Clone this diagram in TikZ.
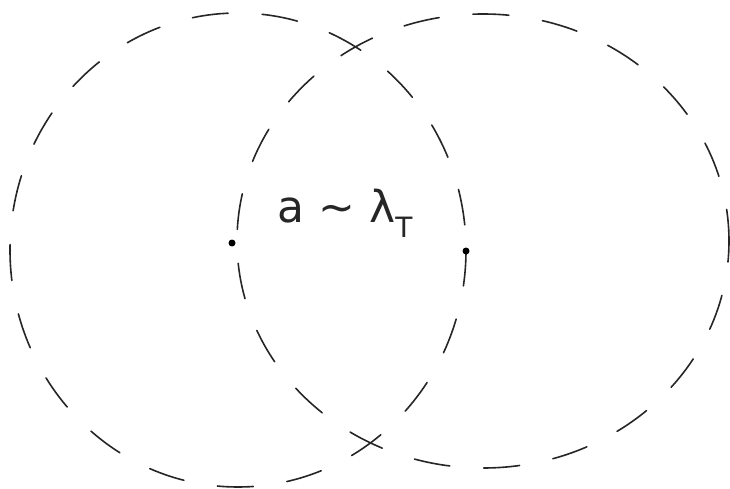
\documentclass[tikz,border=0pt]{standalone}
\usepackage{fontspec}
\setmainfont{DejaVu Sans}
\begin{document}
\begin{tikzpicture}[x=1pt,y=-1pt,
  sketch/.style={draw=black!85,line width=1.6pt,line cap=round,dash pattern=on 36pt off 34pt},
  dotmark/.style={circle,fill=black,inner sep=0pt,minimum size=7pt}]
\useasboundingbox (0,0) rectangle (730,489);
\draw[sketch] (238,250) ellipse [x radius=228, y radius=237];
\draw[sketch,dash phase=15pt] (483,241) ellipse [x radius=246, y radius=227];
\node[dotmark] (c1) at (232,243) {};
\node[dotmark] (c2) at (466,251) {};
\node[font=\fontsize{44}{50}\selectfont,text=black!85] (lbl) at (345,213) {a ∼ λ\raisebox{-0.35em}{\fontsize{28}{30}\selectfont T}};
\end{tikzpicture}
\end{document}
